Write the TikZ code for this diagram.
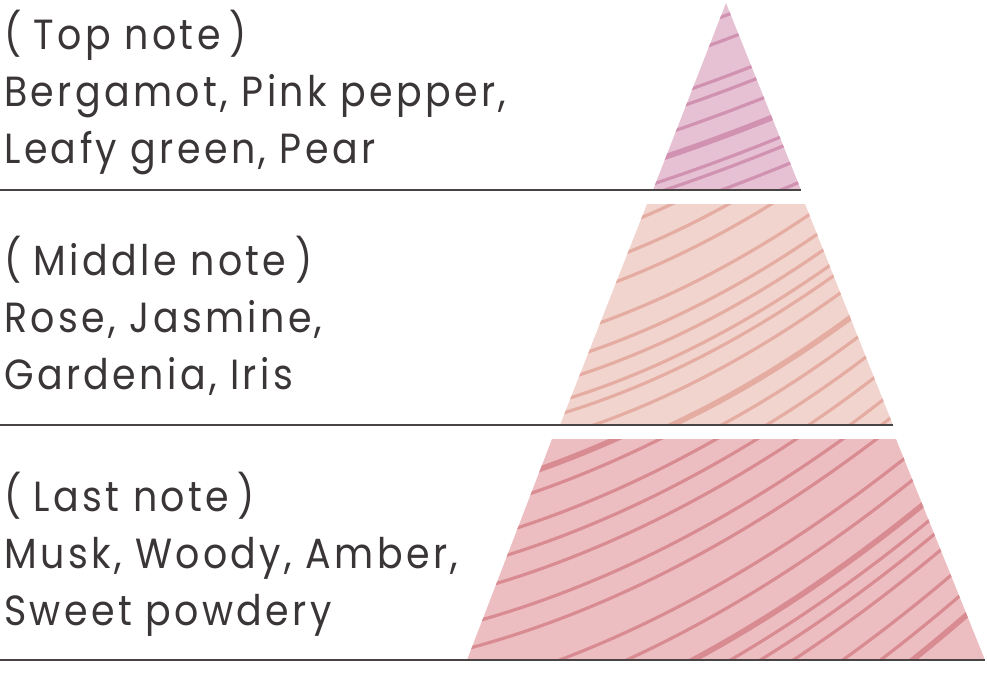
\documentclass[tikz,border=0pt]{standalone}
\usepackage{fontspec}
\setmainfont{Poppins}[LetterSpace=8, FakeStretch=0.9]
\begin{document}
\begin{tikzpicture}[x=0.02cm, y=-0.02cm]
  % Define colours, layer styles and note text style
  \definecolor{topfill}{RGB}{230,193,211}
  \definecolor{topline}{RGB}{209,145,177}
  \definecolor{midfill}{RGB}{242,212,207}
  \definecolor{midline}{RGB}{229,172,162}
  \definecolor{lastfill}{RGB}{237,190,193}
  \definecolor{lastline}{RGB}{217,139,146}
  \definecolor{notegray}{RGB}{58,53,54}
  \definecolor{rulegray}{RGB}{72,68,68}
  \tikzstyle{noterule} = [draw=rulegray, line width=1.1pt]
  \tikzstyle{notetext} = [anchor=base west, align=left, inner sep=0pt,
  text=notegray, font=\fontsize{24}{32.3}\selectfont]

  \useasboundingbox (0,0) rectangle (987,676);

  % Top note: triangle with grain lines
  \fill[topfill] (726,3) -- (801,190) -- (653,190) -- cycle;
  \begin{scope}
    \clip (726,3) -- (801,190) -- (653,190) -- cycle;
    \foreach \y/\w in {41/1.8, 65/1.8, 102/1.8, 116/1.8, 138/1.8, 161/3.2,
      184/1.8, 194/1.8, 214/1.8, 237/1.8}
    \draw[topline, line width=\w pt] (640,\y+4.24)
    .. controls (698.33,\y-14.55) and (756.67,\y-36.4) .. (815,\y-61.33);
  \end{scope}

  % Middle note: trapezoid with grain lines
  \fill[midfill] (647,204) -- (805,204) -- (893,425) -- (560,425) -- cycle;
  \begin{scope}
    \clip (647,204) -- (805,204) -- (893,425) -- (560,425) -- cycle;
    \foreach \y/\w in {247/1.8, 276/1.8, 301/1.8, 336/1.8, 361/1.8,
      381/1.8, 401/1.8, 414/1.8, 436/1.8, 468/3.2, 493/1.8, 519/1.8,
      546/1.8, 575/1.8, 599/1.8}
    \draw[midline, line width=\w pt] (540,\y+5.7)
    .. controls (663.33,\y-27.6) and (786.67,\y-95.1) .. (910,\y-196.9);
  \end{scope}

  % Last note: trapezoid with grain lines
  \fill[lastfill] (552,439) -- (896,439) -- (985,660) -- (467,660) -- cycle;
  \begin{scope}
    \clip (552,439) -- (896,439) -- (985,660) -- (467,660) -- cycle;
    \foreach \y/\w in {491/3.2, 512/1.8, 542/1.8, 566/1.8, 591/1.8,
      623/1.8, 648/1.8, 689/1.8, 717/1.8, 750/3.2, 771/1.8, 789/1.8,
      810/1.8, 844/1.8, 872/1.8, 897/3.2}
    \draw[lastline, line width=\w pt] (440,\y+7.56)
    .. controls (626.67,\y-36.12) and (813.33,\y-142.52) .. (1000,\y-311.64);
  \end{scope}

  % Rules under each layer
  \draw[noterule] (0,190) -- (801,190);
  \draw[noterule] (0,425) -- (893,425);
  \draw[noterule] (0,660) -- (985,660);

  % Note texts (anchored at the baseline of their last line)
  \node[notetext] (topnote) at (4,163)
  {(\kern7pt Top note\kern5pt)\\Bergamot, Pink pepper,\\Leafy green, Pear};
  \node[notetext] (midnote) at (4,389)
  {(\kern7pt Middle note\kern5pt)\\Rose, Jasmine,\\Gardenia, Iris};
  \node[notetext] (lastnote) at (4,625)
  {(\kern7pt Last note\kern5pt)\\Musk, Woody, Amber,\\Sweet powdery};
\end{tikzpicture}
\end{document}
